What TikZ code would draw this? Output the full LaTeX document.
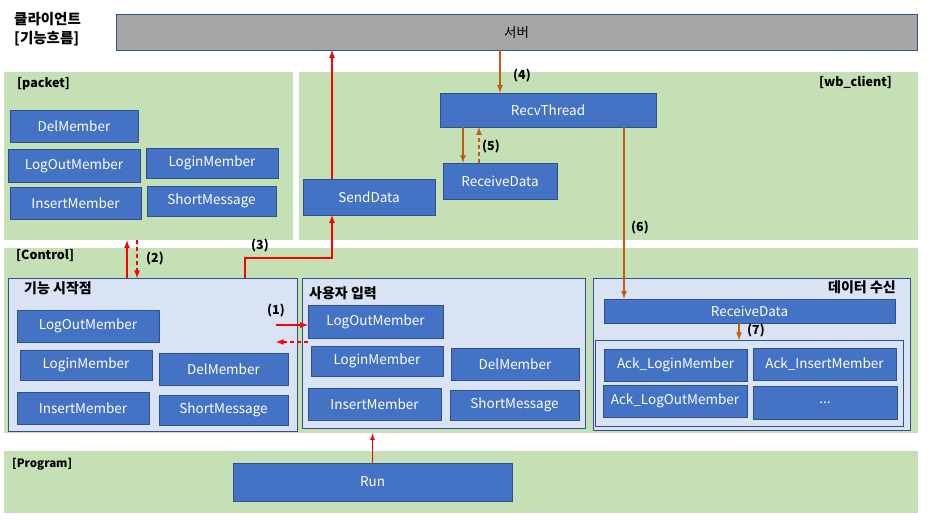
\documentclass[tikz,border=0pt]{standalone}
\usepackage{fontspec}
\setmainfont{Noto Sans CJK KR}
\usepackage{tikz}
\usetikzlibrary{positioning}
\definecolor{boxblue}{HTML}{4472C4}
\definecolor{edgeblue}{HTML}{2F528F}
\definecolor{panelgreen}{HTML}{C5E0B4}
\definecolor{panelblue}{HTML}{DAE3F3}
\definecolor{srvgray}{HTML}{A6A6A6}
\definecolor{flowred}{HTML}{FF0000}
\definecolor{floworange}{HTML}{C55A11}
\tikzset{
  blkbox/.style={rectangle,draw=edgeblue,fill=boxblue,text=white,inner sep=0pt,
    font=\fontsize{13.5}{15}\selectfont},
  panel/.style={rectangle,fill=panelgreen,anchor=north west,inner sep=0pt},
  subpanel/.style={rectangle,draw=edgeblue,fill=panelblue,anchor=north west,inner sep=0pt},
  tag/.style={anchor=west,inner sep=0pt,font=\bfseries\fontsize{12.5}{14}\selectfont},
  steplbl/.style={inner sep=0pt,font=\bfseries\fontsize{12.5}{14}\selectfont},
  redarr/.style={-latex,flowred,line width=1.6pt},
  redret/.style={-latex,flowred,line width=1.6pt,dash pattern=on 4pt off 3pt},
  orgarr/.style={-latex,floworange,line width=1.6pt},
  orgret/.style={-latex,floworange,line width=1.6pt,dash pattern=on 4pt off 3pt}
}

\begin{document}
\begin{tikzpicture}[x=1pt,y=-1pt]

\useasboundingbox (0,0) rectangle (928,519);

% Title and server
\node[anchor=north west,inner sep=0pt,align=left,font=\bfseries\fontsize{14.5}{19}\selectfont]
  (title) at (14,12) {클라이언트\\{[}기능흐름{]}};
\node[rectangle,draw=edgeblue,fill=srvgray,minimum width=801,minimum height=36,
  font=\fontsize{13.5}{15}\selectfont] (server) at (516.5,32) {서버};

% Green layers
\node[panel,minimum width=289,minimum height=168] (packet) at (4,72) {};
\node[panel,minimum width=619,minimum height=168] (wbclient) at (299,72) {};
\node[panel,minimum width=914,minimum height=185] (control) at (4,248) {};
\node[panel,minimum width=914,minimum height=62] (program) at (4,451) {};

\node[tag] (packettag) at (17,84) {[packet]};
\node[tag,anchor=east] (wbtag) at (892,82) {[wb\_client]};
\node[tag] (controltag) at (16,256) {[Control]};
\node[tag,font=\bfseries\fontsize{11.5}{13}\selectfont] (programtag) at (12,464) {[Program]};

% packet
\node[blkbox,minimum width=128,minimum height=32] (pDel) at (74,126) {DelMember};
\node[blkbox,minimum width=132,minimum height=33] (pLogout) at (74,165.5) {LogOutMember};
\node[blkbox,minimum width=132,minimum height=30] (pLogin) at (212,163) {LoginMember};
\node[blkbox,minimum width=131,minimum height=32] (pInsert) at (75.5,203) {InsertMember};
\node[blkbox,minimum width=129,minimum height=30] (pShort) at (211.5,201) {ShortMessage};

% wb_client
\node[blkbox,minimum width=216,minimum height=34] (recv) at (548,110) {RecvThread};
\node[blkbox,minimum width=114,minimum height=36] (wRecvData) at (500,181) {ReceiveData};
\node[blkbox,minimum width=132,minimum height=36] (send) at (369,197) {SendData};

% Control: start point
\node[subpanel,minimum width=289,minimum height=153] (start) at (8,278) {};
\node[tag,font=\bfseries\fontsize{14}{16}\selectfont] (starttag) at (24,288) {기능 시작점};
\node[blkbox,minimum width=142,minimum height=32] (sLogout) at (88,326) {LogOutMember};
\node[blkbox,minimum width=132,minimum height=30] (sLogin) at (86,365) {LoginMember};
\node[blkbox,minimum width=129,minimum height=32] (sDel) at (223.5,369) {DelMember};
\node[blkbox,minimum width=132,minimum height=32] (sInsert) at (83,408) {InsertMember};
\node[blkbox,minimum width=129,minimum height=30] (sShort) at (223.5,410) {ShortMessage};

% Control: user input
\node[subpanel,minimum width=283,minimum height=150] (user) at (302,278) {};
\node[tag,font=\bfseries\fontsize{14}{16}\selectfont] (usertag) at (309,293) {사용자 입력};
\node[blkbox,minimum width=135,minimum height=33] (uLogout) at (375.5,321.5) {LogOutMember};
\node[blkbox,minimum width=132,minimum height=30] (uLogin) at (377,361) {LoginMember};
\node[blkbox,minimum width=128,minimum height=32] (uDel) at (515,364) {DelMember};
\node[blkbox,minimum width=133,minimum height=32] (uInsert) at (374.5,404) {InsertMember};
\node[blkbox,minimum width=129,minimum height=30] (uShort) at (514.5,405) {ShortMessage};

% Control: data receive
\node[subpanel,minimum width=317,minimum height=152] (data) at (593,278) {};
\node[tag,anchor=east,font=\bfseries\fontsize{14}{16}\selectfont] (datatag) at (896,287) {데이터 수신};
\node[blkbox,minimum width=291,minimum height=24] (dRecv) at (749.5,311) {ReceiveData};
\node[subpanel,minimum width=308,minimum height=86] (ack) at (595,340) {};
\node[blkbox,minimum width=143,minimum height=32] (aLogin) at (675.5,365) {Ack\_LoginMember};
\node[blkbox,minimum width=143,minimum height=32] (aInsert) at (824.5,364) {Ack\_InsertMember};
\node[blkbox,minimum width=144,minimum height=32] (aLogout) at (675,401) {Ack\_LogOutMember};
\node[blkbox,minimum width=144,minimum height=33] (aMore) at (825,402.5) {...};

% Program
\node[blkbox,minimum width=279,minimum height=38] (run) at (372.5,482) {Run};

% Flow (1)-(7)
\coordinate (oneA) at (276,325);
\coordinate (oneB) at (276,342);
\draw[redarr] (oneA) -- (uLogout.west |- oneA);
\draw[redret] (uLogout.west |- oneB) -- (oneB);
\node[steplbl] (lbl1) at (276,311) {(1)};

\draw[redarr] (start.north -| 127,0) -- (packet.south -| 127,0);
\draw[redret] (packet.south -| 137,0) -- (start.north -| 137,0);
\node[steplbl] (lbl2) at (155,259) {(2)};

\coordinate (bend3) at (332,258);
\draw[redarr] (start.north -| 245,0) |- (bend3) -- (send.south -| bend3);
\node[steplbl] (lbl3) at (260,246) {(3)};
\draw[redarr] (send.north -| bend3) -- (server.south -| bend3);

\draw[orgarr] (server.south -| 500,0) -- (recv.north -| 500,0);
\node[steplbl] (lbl4) at (522,76) {(4)};

\draw[orgarr] (recv.south -| 463,0) -- (wRecvData.north -| 463,0);
\draw[orgret] (wRecvData.north -| 479,0) -- (recv.south -| 479,0);
\node[steplbl] (lbl5) at (491,147) {(5)};

\draw[orgarr] (recv.south -| 624,0) -- (dRecv.north -| 624,0);
\node[steplbl] (lbl6) at (640,228) {(6)};

\draw[orgarr] (dRecv.south -| 739,0) -- (ack.north -| 739,0);
\node[steplbl] (lbl7) at (756,331) {(7)};

\draw[redarr,line width=1.2pt] (run.north) -- (run.north |- control.south);

\end{tikzpicture}
\end{document}
